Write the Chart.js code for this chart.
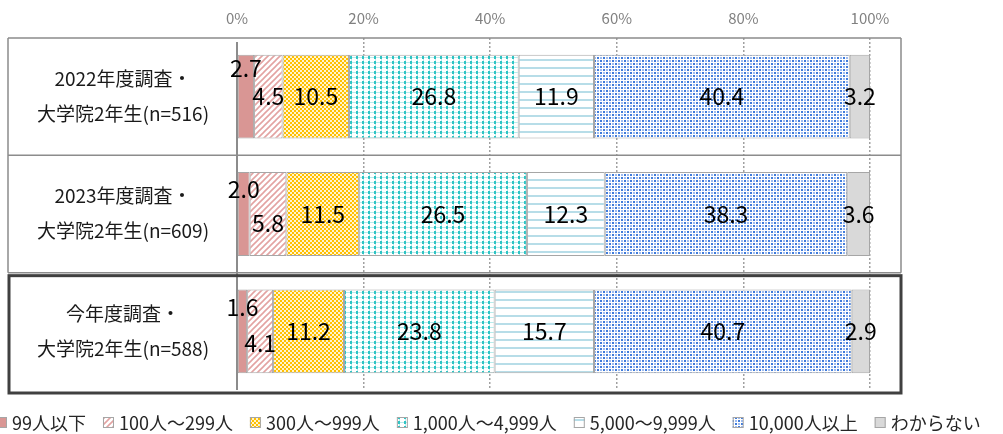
<!DOCTYPE html>
<html>
<head>
<meta charset="utf-8">
<script src="https://cdn.jsdelivr.net/npm/chart.js@4/dist/chart.umd.min.js"></script>
<style>
  html, body { margin: 0; padding: 0; background: #fff; }
  #wrap { width: 1003px; height: 434px; position: relative; }
</style>
</head>
<body>
<div id="wrap"><canvas id="chart1"></canvas></div>
<script>
// categories (two lines each)
var rowLabels = [
  ['2022年度調査・', '大学院2年生(n=516)'],
  ['2023年度調査・', '大学院2年生(n=609)'],
  ['今年度調査・', '大学院2年生(n=588)']
];
var seriesNames = ['99人以下', '100人～299人', '300人～999人', '1,000人～4,999人', '5,000～9,999人', '10,000人以上', 'わからない'];

// percentages per series, one value per row
var s99     = [2.7, 2.0, 1.6];
var s100    = [4.5, 5.8, 4.1];
var s300    = [10.5, 11.5, 11.2];
var s1000   = [26.8, 26.5, 23.8];
var s5000   = [11.9, 12.3, 15.7];
var s10000  = [40.4, 38.3, 40.7];
var sUnknown = [3.2, 3.6, 2.9];

var tickValues = [0, 20, 40, 60, 80, 100];

var FONT = '"Noto Sans CJK JP", "Noto Sans", sans-serif';

// ---- fill patterns ----
function tile(w, h, draw) {
  var c = document.createElement('canvas');
  c.width = w; c.height = h;
  var g = c.getContext('2d');
  draw(g, w, h);
  return document.createElement('canvas').getContext('2d').createPattern(c, 'repeat');
}

var fills = [
  '#D99694',
  tile(6, 6, function (g, w, h) {
    g.fillStyle = '#fff'; g.fillRect(0, 0, w, h);
    g.strokeStyle = '#E3A3A2'; g.lineWidth = 1.6;
    g.beginPath();
    g.moveTo(0, h); g.lineTo(w, 0);
    g.moveTo(-1, 1); g.lineTo(1, -1);
    g.moveTo(w - 1, h + 1); g.lineTo(w + 1, h - 1);
    g.stroke();
  }),
  tile(4, 4, function (g, w, h) {
    g.fillStyle = '#FFF4CF'; g.fillRect(0, 0, w, h);
    g.fillStyle = '#FFC000';
    g.fillRect(0, 0, 2, 2);
    g.fillRect(2, 2, 2, 2);
  }),
  tile(6, 5, function (g, w, h) {
    g.fillStyle = '#fff'; g.fillRect(0, 0, w, h);
    g.fillStyle = '#B8ECEC';
    g.fillRect(0, 2, w, 1);
    g.fillRect(3, 0, 1, h);
    g.fillStyle = '#2EC4C4';
    g.fillRect(2, 1, 2, 3);
  }),
  tile(8, 8, function (g, w, h) {
    g.fillStyle = '#fff'; g.fillRect(0, 0, w, h);
    g.fillStyle = '#B7DDE8';
    g.fillRect(0, 3, w, 2);
  }),
  tile(6, 6, function (g, w, h) {
    g.fillStyle = '#fff'; g.fillRect(0, 0, w, h);
    g.fillStyle = '#3F7BDB';
    g.fillRect(0, 0, 2, 2); g.fillRect(3, 3, 2, 2);
    g.fillStyle = '#9DBBF0';
    g.fillRect(3, 0, 2, 2); g.fillRect(0, 3, 2, 2);
  }),
  '#D9D9D9'
];

var allSeries = [s99, s100, s300, s1000, s5000, s10000, sUnknown];

var datasets = allSeries.map(function (vals, i) {
  return {
    label: seriesNames[i],
    data: vals,
    backgroundColor: fills[i],
    borderColor: '#A6A6A6',
    borderWidth: 1,
    borderSkipped: false,
    barPercentage: 0.715,
    categoryPercentage: 1
  };
});

// label nudges for the narrow first segments (pixels, per row)
var labelNudge = { 0: [-28, -25, -24], 1: [0, 9, 12] };

var tablePlugin = {
  id: 'table',
  beforeDatasetsDraw: function (chart) {
    var ctx = chart.ctx, x = chart.scales.x, y = chart.scales.y;
    var area = chart.chartArea;
    var left = 8, right = 901;
    var n = rowLabels.length;
    var rowH = (area.bottom - area.top) / n;
    ctx.save();
    // grey table lines
    ctx.strokeStyle = '#8C8C8C';
    ctx.lineWidth = 1.5;
    ctx.beginPath();
    ctx.moveTo(left, area.top); ctx.lineTo(right, area.top);
    ctx.moveTo(left, area.top); ctx.lineTo(left, area.top + 2 * rowH);
    ctx.moveTo(right, area.top); ctx.lineTo(right, area.top + 2 * rowH);
    ctx.moveTo(left, area.top + rowH); ctx.lineTo(right, area.top + rowH);
    ctx.stroke();
    // zero line
    var x0 = x.getPixelForValue(0);
    ctx.strokeStyle = '#8C8C8C';
    ctx.lineWidth = 2;
    ctx.beginPath();
    ctx.moveTo(x0, area.top + 4); ctx.lineTo(x0, area.bottom);
    ctx.stroke();
    // row labels
    ctx.fillStyle = '#1a1a1a';
    ctx.font = '19px ' + FONT;
    ctx.textAlign = 'center';
    ctx.textBaseline = 'middle';
    rowLabels.forEach(function (lines, i) {
      var cy = y.getPixelForValue(i);
      ctx.fillText(lines[0], 123, cy - 18);
      ctx.fillText(lines[1], 123, cy + 17);
    });
    ctx.restore();
  },
  afterDatasetsDraw: function (chart) {
    var ctx = chart.ctx, area = chart.chartArea;
    var n = rowLabels.length;
    var rowH = (area.bottom - area.top) / n;
    ctx.save();
    // grey separator between row 1 and 2 drawn over bars area
    ctx.strokeStyle = '#8C8C8C';
    ctx.lineWidth = 1.5;
    ctx.beginPath();
    ctx.moveTo(8, area.top + 2 * rowH); ctx.lineTo(901, area.top + 2 * rowH);
    ctx.stroke();
    // highlighted box for this year's row
    ctx.strokeStyle = '#404040';
    ctx.lineWidth = 3;
    ctx.strokeRect(9, area.top + 2 * rowH + 3, 892, rowH);

    // value labels
    ctx.fillStyle = '#000';
    ctx.font = '23px ' + FONT;
    ctx.textAlign = 'center';
    ctx.textBaseline = 'middle';
    chart.data.datasets.forEach(function (ds, di) {
      var meta = chart.getDatasetMeta(di);
      meta.data.forEach(function (bar, i) {
        var cx = (bar.x + bar.base) / 2;
        var dy = labelNudge[di] ? labelNudge[di][i] : 0;
        ctx.fillText(ds.data[i].toFixed(1), cx, bar.y + dy);
      });
    });

    // legend
    ctx.font = '18px ' + FONT;
    ctx.textAlign = 'left';
    var lx = -4, ly = 423;
    chart.data.datasets.forEach(function (ds) {
      ctx.fillStyle = ds.backgroundColor;
      ctx.fillRect(lx, ly - 6, 11, 11);
      ctx.strokeStyle = '#A6A6A6';
      ctx.lineWidth = 1;
      ctx.strokeRect(lx + 0.5, ly - 5.5, 10, 10);
      ctx.fillStyle = '#262626';
      ctx.fillText(ds.label, lx + 16, ly);
      lx += 16 + ctx.measureText(ds.label).width + 17;
    });
    ctx.restore();
  }
};

new Chart(document.getElementById('chart1'), {
  type: 'bar',
  data: { labels: rowLabels.map(function (l) { return l.join(''); }), datasets: datasets },
  options: {
    indexAxis: 'y',
    responsive: true,
    maintainAspectRatio: false,
    animation: false,
    layout: { padding: { left: 237, right: 133, top: 0, bottom: 44 } },
    plugins: { legend: { display: false }, tooltip: { enabled: false } },
    scales: {
      x: {
        position: 'top',
        stacked: true,
        min: 0,
        max: 100,
        afterBuildTicks: function (scale) {
          scale.ticks = tickValues.map(function (v) { return { value: v }; });
        },
        afterFit: function (scale) { scale.height = 38; },
        ticks: {
          padding: 11,
          color: '#808080',
          font: { family: FONT, size: 15 },
          callback: function (v) { return v + '%'; }
        },
        grid: {
          drawTicks: false,
          lineWidth: 1.5,
          color: function (c) { return c.tick && c.tick.value === 0 ? 'rgba(0,0,0,0)' : '#A0A0A0'; }
        },
        border: { display: false, dash: [2, 2] }
      },
      y: {
        stacked: true,
        display: false
      }
    }
  },
  plugins: [tablePlugin]
});
</script>
</body>
</html>
